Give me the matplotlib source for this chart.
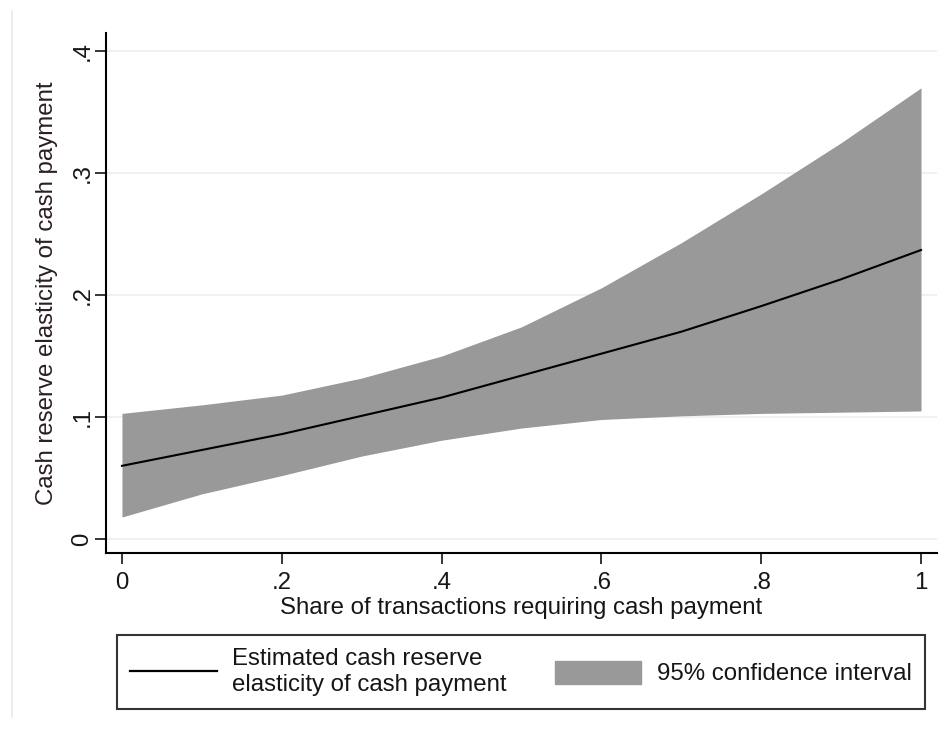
import matplotlib
matplotlib.use("Agg")
import matplotlib.pyplot as plt
from matplotlib.lines import Line2D
from matplotlib.patches import Patch

# --- values ---
share_cash = [0.0, 0.1, 0.2, 0.3, 0.4, 0.5, 0.6, 0.7, 0.8, 0.9, 1.0]
elasticity = [0.060, 0.073, 0.086, 0.101, 0.116, 0.134, 0.152, 0.170, 0.191, 0.213, 0.237]
ci_upper = [0.103, 0.110, 0.118, 0.132, 0.150, 0.174, 0.206, 0.243, 0.283, 0.325, 0.370]
ci_lower = [0.018, 0.037, 0.052, 0.068, 0.081, 0.091, 0.098, 0.101, 0.103, 0.104, 0.105]

x_ticks = [0, 0.2, 0.4, 0.6, 0.8, 1.0]
x_tick_labels = ["0", ".2", ".4", ".6", ".8", "1"]
y_ticks = [0, 0.1, 0.2, 0.3, 0.4]
y_tick_labels = ["0", ".1", ".2", ".3", ".4"]

line_label = "Estimated cash reserve\nelasticity of cash payment"
band_label = "95% confidence interval"

plt.rcParams['font.family'] = ['Liberation Sans', 'DejaVu Sans']
TEXT = '#161616'
FS = 17.3
W, H = 944, 732

fig = plt.figure(figsize=(W / 100, H / 100), dpi=100)
ax = fig.add_axes([106 / W, 1 - 553 / H, 831 / W, 520 / H])

ax.fill_between(share_cash, ci_lower, ci_upper, color='#999999', linewidth=0, zorder=2)
ax.plot(share_cash, elasticity, color='black', linewidth=1.5, zorder=3)

ax.set_xlim(-0.020, 1.020)
ax.set_ylim(-0.0115, 0.415)

ax.set_xticks(x_ticks)
ax.set_xticklabels(x_tick_labels)
ax.set_yticks(y_ticks)
ax.set_yticklabels(y_tick_labels, rotation=90, va='center')

ax.grid(axis='y', color='#eaeff0', linewidth=1.2, zorder=0)
ax.set_axisbelow(True)

for side in ['top', 'right']:
    ax.spines[side].set_visible(False)
for side in ['left', 'bottom']:
    ax.spines[side].set_linewidth(1.5)
    ax.spines[side].set_color('black')

ax.tick_params(direction='out', length=8, width=1.1, color='black',
               labelsize=FS, labelcolor=TEXT)
ax.tick_params(axis='x', pad=6)
ax.tick_params(axis='y', pad=1)

ax.set_xlabel("Share of transactions requiring cash payment", fontsize=FS, color=TEXT, labelpad=2)
ax.set_ylabel("Cash reserve elasticity of cash payment", fontsize=FS, color='#2a2020', labelpad=10)

handles = [Line2D([0], [0], color='black', linewidth=1.6),
           Patch(facecolor='#999999', edgecolor='#999999')]
leg = fig.legend(handles, [line_label, band_label],
                 loc='center', ncol=2, mode='expand',
                 bbox_to_anchor=(117 / W, 1 - 709 / H, 808 / W, 74 / H),
                 fontsize=FS, frameon=True, fancybox=False, edgecolor='black',
                 handlelength=3.6, handleheight=1.1, handletextpad=0.65,
                 borderpad=0.55, borderaxespad=0, columnspacing=2.0)
leg.get_frame().set_linewidth(1.5)
for t in leg.get_texts():
    t.set_color(TEXT)

# faint border line at the left edge of the graph region
fig.add_artist(Line2D([12 / W, 12 / W], [0.02, 0.985], color='#e4eaee', linewidth=1.2))

fig.savefig("out.png", dpi=100)
